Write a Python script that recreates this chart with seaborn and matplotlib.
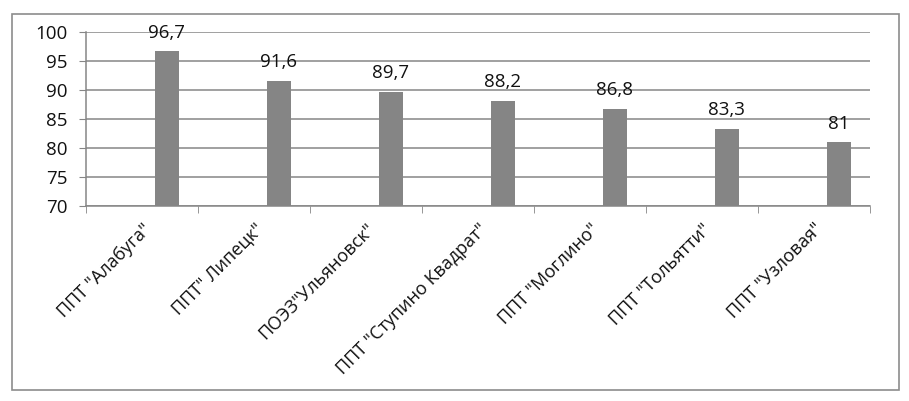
import numpy as np
import matplotlib
matplotlib.use("Agg")
import matplotlib.pyplot as plt
import seaborn as sns
from matplotlib.patches import Rectangle

categories = ['ППТ "Алабуга"', 'ППТ" Липецк"', 'ПОЭЗ"Ульяновск"', 'ППТ "Ступино Квадрат"',
              'ППТ "Моглино"', 'ППТ "Тольятти"', 'ППТ "Узловая"']
values = [96.7, 91.6, 89.7, 88.2, 86.8, 83.3, 81.0]
value_labels = ["96,7", "91,6", "89,7", "88,2", "86,8", "83,3", "81"]
y_ticks = [70, 75, 80, 85, 90, 95, 100]

sns.set_style("white")
plt.rcParams["font.family"] = ["Open Sans", "DejaVu Sans"]

grey = "#868686"
bar_color = "#858585"
text_color = "#111111"

fig = plt.figure(figsize=(9.09, 4.01), dpi=100)
ax = fig.add_axes([0.0946, 0.486, 0.8624, 0.434])

sns.barplot(x=categories, y=values, color=bar_color, width=0.214, ax=ax,
            saturation=1, edgecolor="none")
# bars sit right of the category centre, like Excel's clustered layout
for p in ax.patches:
    p.set_x(p.get_x() + 0.223)

ax.bar_label(ax.containers[0], labels=value_labels, padding=7, fontsize=13.5, color=text_color)

ax.set_ylim(70, 100)
ax.set_yticks(y_ticks)
ax.set_xlim(-0.5, len(categories) - 0.5)
ax.yaxis.grid(True, color=grey, linewidth=1.1)
ax.set_axisbelow(True)

for s in ["top", "right"]:
    ax.spines[s].set_visible(False)
for s in ["left", "bottom"]:
    ax.spines[s].set_color(grey)
    ax.spines[s].set_linewidth(1.1)

ax.tick_params(axis="y", which="major", direction="out", length=5, color=grey,
               labelsize=13.5, labelcolor=text_color, left=True, pad=8)
ax.set_xticks(range(len(categories)))
ax.set_xticklabels(categories, rotation=45, ha="right", rotation_mode="anchor",
                   fontsize=13, color=text_color)
ax.tick_params(axis="x", which="major", length=0, pad=10)
ax.set_xticks(np.arange(-0.5, len(categories), 1.0), minor=True)
ax.tick_params(axis="x", which="minor", direction="out", length=5, color=grey, bottom=True)

fig.patches.append(Rectangle((0.0132, 0.0274), 0.9758, 0.9377, transform=fig.transFigure,
                             fill=False, edgecolor="#8c8c8c", linewidth=1.2))

fig.savefig("out.png", dpi=100)
